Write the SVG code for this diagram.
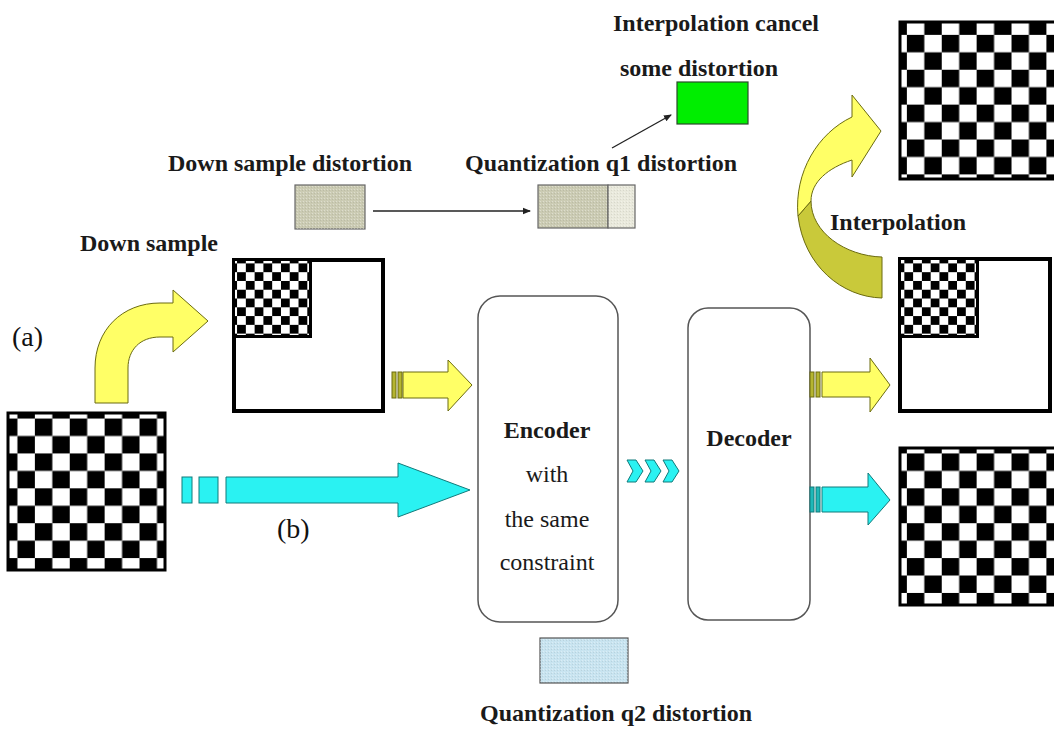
<svg xmlns="http://www.w3.org/2000/svg" width="1054" height="729" viewBox="0 0 1054 729">
  <defs>
    <!-- checkerboard cells: large boards and reduced (down-sampled) boards -->
    <pattern id="chk" width="34.88" height="34.88" patternUnits="userSpaceOnUse">
      <rect width="34.88" height="34.88" fill="#fff"/>
      <rect width="17.44" height="17.44" fill="#000"/>
      <rect x="17.44" y="17.44" width="17.44" height="17.44" fill="#000"/>
    </pattern>
    <pattern id="chkSmall" width="17.56" height="17.56" patternUnits="userSpaceOnUse">
      <rect width="17.56" height="17.56" fill="#fff"/>
      <rect width="8.78" height="8.78" fill="#000"/>
      <rect x="8.78" y="8.78" width="8.78" height="8.78" fill="#000"/>
    </pattern>
    <!-- grain used on the distortion swatches -->
    <pattern id="grain" width="3" height="3" patternUnits="userSpaceOnUse">
      <rect width="3" height="3" fill="none"/>
      <rect x="0" y="0" width="1" height="1" fill="#fff" opacity="0.35"/>
      <rect x="2" y="1" width="1" height="1" fill="#000" opacity="0.08"/>
    </pattern>
    <marker id="tip" markerWidth="8" markerHeight="8" refX="7" refY="4" orient="auto" markerUnits="userSpaceOnUse">
      <path d="M0,0.8 L8,4 L0,7.2 Z" fill="#222"/>
    </marker>
  </defs>
  <style>
    .lbl { font-family: "Liberation Serif", "Times New Roman", serif; font-size: 24px; font-weight: bold; fill: #1a1a1a; }
    .reg { font-family: "Liberation Serif", "Times New Roman", serif; font-size: 24px; fill: #1a1a1a; }
    .tag { font-family: "Liberation Serif", "Times New Roman", serif; font-size: 28px; fill: #111; }
    .board { fill: url(#chk); stroke: #000; stroke-width: 3; }
    .mini { fill: url(#chkSmall); stroke: #000; stroke-width: 3; }
    .frame { fill: #fff; stroke: #000; stroke-width: 4; }
    .codec { fill: #fff; stroke: #555; stroke-width: 1.5; }
    .yel { fill: #ffff66; stroke: #6b6b10; stroke-width: 1; }
    .yelDark { fill: #c9c93a; stroke: #6b6b10; stroke-width: 1; }
    .bar { fill: #b5b530; stroke: #6b6b10; stroke-width: 1; }
    .cyan { fill: #2af2f2; stroke: #117a7a; stroke-width: 1; }
    .cbar { fill: #1fb8b8; stroke: #117a7a; stroke-width: 1; }
    .swatch { fill: #cbcbb3; stroke: #666; stroke-width: 1.2; }
    .thin { stroke: #222; stroke-width: 1.3; fill: none; }
  </style>

  <rect width="1054" height="729" fill="#fff"/>

  <!-- source image -->
  <g id="source-image">
    <rect class="board" x="8" y="413" width="157" height="157"/>
  </g>

  <!-- down-sampled frame -->
  <g id="downsampled-frame">
    <rect class="frame" x="234" y="260" width="149" height="151"/>
    <rect class="mini" x="233.5" y="259.5" width="77" height="77"/>
  </g>

  <g id="encoder">
    <rect class="codec" x="478" y="296" width="140" height="326" rx="22" ry="22"/>
    <text class="lbl" x="547" y="438" text-anchor="middle">Encoder</text>
    <text class="reg" x="547" y="482" text-anchor="middle">with</text>
    <text class="reg" x="547" y="527" text-anchor="middle">the same</text>
    <text class="reg" x="547" y="570" text-anchor="middle">constraint</text>
  </g>

  <g id="decoder">
    <rect class="codec" x="688" y="308" width="122" height="312" rx="20" ry="20"/>
    <text class="lbl" x="749" y="446" text-anchor="middle">Decoder</text>
  </g>

  <!-- reconstructed images -->
  <g id="interpolated-image">
    <rect class="board" x="900" y="22" width="157" height="157"/>
  </g>
  <g id="decoded-small-frame">
    <rect class="frame" x="900" y="259" width="150" height="152"/>
    <rect class="mini" x="899.5" y="258.5" width="78" height="78"/>
  </g>
  <g id="decoded-full-image">
    <rect class="board" x="900" y="448" width="157" height="157"/>
  </g>

  <!-- distortion swatches -->
  <g id="downsample-distortion">
    <text class="lbl" x="168" y="171">Down sample distortion</text>
    <rect class="swatch" x="295" y="185" width="70" height="44"/>
    <rect x="295" y="185" width="70" height="44" fill="url(#grain)"/>
  </g>
  <g id="q1-distortion">
    <text class="lbl" x="465" y="171">Quantization q1 distortion</text>
    <rect class="swatch" x="538" y="185" width="70" height="43"/>
    <rect x="538" y="185" width="70" height="43" fill="url(#grain)"/>
    <rect x="608" y="185" width="27" height="43" fill="#e9e9dc" stroke="#666" stroke-width="1.2"/>
    <rect x="608" y="185" width="27" height="43" fill="url(#grain)"/>
  </g>
  <g id="cancelled-distortion">
    <text class="lbl" x="613" y="31">Interpolation cancel</text>
    <text class="lbl" x="620" y="76">some distortion</text>
    <rect x="677" y="82" width="71" height="42" fill="#00ee00" stroke="#2a4a2a" stroke-width="1.2"/>
  </g>
  <g id="q2-distortion">
    <rect x="540" y="638" width="88" height="45" fill="#c8e4f0" stroke="#555" stroke-width="1.2"/>
    <rect x="540" y="638" width="88" height="45" fill="url(#grain)"/>
    <text class="lbl" x="480" y="721">Quantization q2 distortion</text>
  </g>

  <!-- step labels -->
  <g id="labels">
    <text class="lbl" x="80" y="251">Down sample</text>
    <text class="lbl" x="830" y="230">Interpolation</text>
    <text class="tag" x="12" y="346">(a)</text>
    <text class="tag" x="277" y="538">(b)</text>
  </g>

  <!-- connectors -->
  <g id="connectors">
    <!-- (a) down sample: bent arrow -->
    <path class="yel" d="M95,403 L95,368 C95,330 122,303 160,303 L173,303 L173,290 L208,321 L173,352 L173,337 L160,337 C140,337 128,350 128,368 L128,403 Z"/>

    <!-- (a) down-sampled frame into encoder -->
    <rect class="bar" x="392" y="372" width="4" height="26"/>
    <rect class="bar" x="398" y="372" width="4" height="26"/>
    <path class="yel" d="M403,372 L448,372 L448,360 L472,385 L448,411 L448,398 L403,398 Z"/>

    <!-- (b) full image into encoder -->
    <rect class="cyan" x="182" y="477" width="10" height="26"/>
    <rect class="cyan" x="199" y="477" width="19" height="26"/>
    <path class="cyan" d="M226,477 L398,477 L398,463 L470,490 L398,517 L398,503 L226,503 Z"/>

    <!-- bitstream between encoder and decoder -->
    <path class="cyan" d="M627,460 L636,460 L643,471 L636,482 L627,482 L633,471 Z"/>
    <path class="cyan" d="M645,460 L654,460 L661,471 L654,482 L645,482 L651,471 Z"/>
    <path class="cyan" d="M663,460 L672,460 L679,471 L672,482 L663,482 L669,471 Z"/>

    <!-- decoder outputs -->
    <rect class="bar" x="810" y="372" width="4" height="25"/>
    <rect class="bar" x="816" y="372" width="4" height="25"/>
    <path class="yel" d="M822,372 L870,372 L870,358 L890,385 L870,412 L870,397 L822,397 Z"/>

    <rect class="cbar" x="810" y="487" width="4" height="25"/>
    <rect class="cbar" x="816" y="487" width="4" height="25"/>
    <path class="cyan" d="M822,487 L868,487 L868,473 L890,500 L868,525 L868,512 L822,512 Z"/>

    <!-- interpolation: curled arrow, back face then front face -->
    <path class="yelDark" d="M882,257 L882,298 C842,297 804,266 798,216 L811,201 C811,232 845,256 882,257 Z"/>
    <path class="yel" d="M798,216 C794,172 818,133 852,117 L852,95 L881,131 L852,177 L852,160 C828,168 811,182 811,201 Z"/>

    <!-- distortion flow -->
    <line class="thin" x1="373" y1="211" x2="530" y2="211" marker-end="url(#tip)"/>
    <line class="thin" x1="612" y1="148" x2="671" y2="115" marker-end="url(#tip)"/>
  </g>
</svg>
